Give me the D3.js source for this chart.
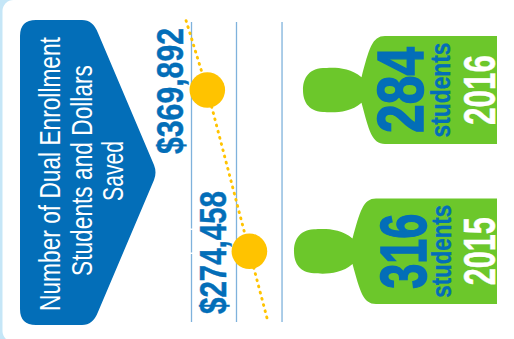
<!DOCTYPE html>
<html>
<head>
<meta charset="utf-8">
<script src="https://cdn.jsdelivr.net/npm/d3@7"></script>
<style>
html, body { margin: 0; padding: 0; background: #c5e6f7; }
svg { display: block; }
text { font-family: "Liberation Sans Narrow", "Liberation Sans", sans-serif; }
</style>
</head>
<body>
<svg id="chart" width="514" height="339"></svg>
<script>
// Dual enrollment: students and dollars saved per year
const years = [2016, 2015];
const dollarsSaved = [369892, 274458];
const students = [284, 316];
const gridValues = [405700, 303700, 200500];
const trendYears = [2016.43, 2016, 2015, 2014.56];
const trendValues = [418000, 369892, 274458, 232000];
const titleLines = ["Number of Dual Enrollment", "Students and Dollars", "Saved"];

const BLUE = "#036eb8", GREEN = "#6cc72b", GOLD = "#ffc300", GRID = "#7fb2dc";

const svg = d3.select("#chart");
const x = d3.scaleLinear().domain([369892, 274458]).range([207.3, 249.4]);
const y = d3.scaleLinear().domain([2016, 2015]).range([90, 251.3]);
const neck = d3.scaleLinear().domain([284, 316]).range([361, 352]);
const halfBody = d3.scaleLinear().domain([284, 316]).range([54, 52.8]);
const baseX = 497;

// Card
svg.append("rect").attr("x", 2.5).attr("y", 0).attr("width", 540).attr("height", 342)
  .attr("rx", 11).attr("fill", "#fff");

// Title banner: rounded pentagon pointing right
const banner = d3.path();
banner.moveTo(36, 20);
banner.lineTo(82, 20);
banner.quadraticCurveTo(93, 20, 98, 33);
banner.lineTo(154, 165);
banner.quadraticCurveTo(157, 172.5, 154, 180);
banner.lineTo(98, 312);
banner.quadraticCurveTo(93, 325, 82, 325);
banner.lineTo(36, 325);
banner.quadraticCurveTo(20, 325, 20, 309);
banner.lineTo(20, 36);
banner.quadraticCurveTo(20, 20, 36, 20);
banner.closePath();
svg.append("path").attr("d", banner.toString()).attr("fill", BLUE);

// Rotated text helper: baseline at x = bx, centred on cy, reading bottom to top,
// condensed along its run so the string spans len pixels
function label(bx, cy, str, size, len, fill, weight, thicken) {
  const t = svg.append("text")
    .attr("text-anchor", "middle")
    .attr("font-size", size)
    .attr("font-weight", weight || "normal")
    .attr("fill", fill)
    .attr("stroke", thicken ? fill : "none")
    .attr("stroke-width", thicken || 0)
    .style("vector-effect", "non-scaling-stroke")
    .text(str);
  const k = len / t.node().getComputedTextLength();
  t.attr("transform", `translate(${bx},${cy}) rotate(-90) scale(${k},1)`);
  return t;
}

// Title lines stacked left to right across the rotated banner
const titleBase = [60, 91.5, 123];
const titleCy = [174, 170.5, 171];
const titleLen = [274, 211, 60];
titleLines.forEach((t, i) => {
  label(titleBase[i], titleCy[i], t, 30, titleLen[i], "#fff");
});

// Gridlines; the first one carries two small breaks
svg.selectAll("line.grid").data(gridValues).join("line")
  .attr("class", "grid")
  .attr("x1", d => x(d)).attr("x2", d => x(d))
  .attr("y1", 22).attr("y2", 322)
  .attr("stroke", GRID).attr("stroke-width", 1.3)
  .attr("stroke-dasharray", (d, i) => i === 0 ? "206.5 1.5 22.5 1.5 300" : null);

// Trend line drawn as short rounded dashes
const trend = d3.line().x(d => x(d[1])).y(d => y(d[0]));
svg.append("path")
  .attr("d", trend(trendYears.map((t, i) => [t, trendValues[i]])))
  .attr("fill", "none").attr("stroke", GOLD).attr("stroke-width", 2.9)
  .attr("stroke-linecap", "round").attr("stroke-dasharray", "0.8 5.6");

svg.selectAll("circle.pt").data(years).join("circle")
  .attr("class", "pt")
  .attr("cx", (d, i) => x(dollarsSaved[i]))
  .attr("cy", d => y(d))
  .attr("r", 17.8).attr("fill", GOLD);

// Dollar labels
const moneyFmt = d3.format("$,");
const moneyX = [183, 226];
const moneyY = [91, 252.5];
const moneyLen = [126, 123];
dollarsSaved.forEach((v, i) => {
  label(moneyX[i], moneyY[i], moneyFmt(v), 37, moneyLen[i], BLUE, "bold", 0.4);
});

// Person pictogram, head to the left, flat edge at the base
function person(yr, n) {
  const cy = y(yr), nx = neck(n), hb = halfBody(n);
  const p = d3.path();
  p.moveTo(baseX, cy - hb);
  p.lineTo(nx + 24, cy - hb);
  p.bezierCurveTo(nx + 11, cy - hb, nx + 8, cy - hb + 13, nx + 0.5, cy - 12.8);
  p.bezierCurveTo(nx - 12, cy - 24, nx - 30, cy - 22.5, nx - 38, cy - 22);
  p.bezierCurveTo(nx - 54, cy - 21, nx - 58, cy - 10, nx - 58, cy);
  p.bezierCurveTo(nx - 58, cy + 10, nx - 54, cy + 21, nx - 38, cy + 22);
  p.bezierCurveTo(nx - 30, cy + 22.5, nx - 12, cy + 24, nx + 0.5, cy + 12.8);
  p.bezierCurveTo(nx + 8, cy + hb - 13, nx + 11, cy + hb, nx + 24, cy + hb);
  p.lineTo(baseX, cy + hb);
  p.closePath();
  return p.toString();
}
svg.selectAll("path.person").data(years).join("path")
  .attr("class", "person")
  .attr("d", (d, i) => person(d, students[i]))
  .attr("fill", GREEN);

// Pictogram labels
const countX = [422.5, 425.5];
const countLen = [86, 75];
const unitX = [450, 451];
const unitLen = [95, 93];
years.forEach((yr, i) => {
  const cy = y(yr);
  label(countX[i], cy, students[i], 65, countLen[i], BLUE, "bold", 1.4);
  label(unitX[i], cy, "students", 27, unitLen[i], BLUE, "bold", 0.3);
  label(495, cy, yr, 45, i === 0 ? 70 : 68, "#fff", "bold", 0.4);
});
</script>
</body>
</html>
